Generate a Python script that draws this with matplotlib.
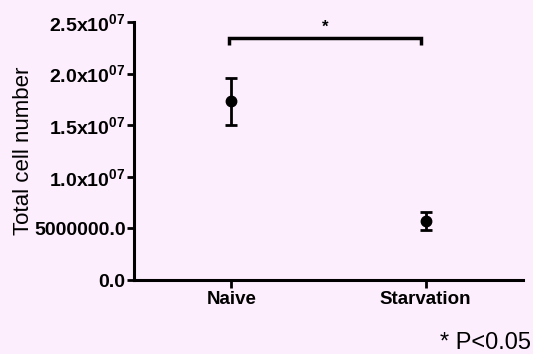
import numpy as np
import matplotlib
matplotlib.use("Agg")
import matplotlib.pyplot as plt

plt.rcParams['font.family'] = ['Liberation Sans', 'DejaVu Sans']
plt.rcParams['mathtext.fontset'] = 'custom'
plt.rcParams['mathtext.rm'] = 'Liberation Sans:bold'
plt.rcParams['mathtext.bf'] = 'Liberation Sans:bold'

groups = ['Naive', 'Starvation']
means = [1.73e7, 5.7e6]
sems = [2.3e6, 0.85e6]
yticks = [0, 5e6, 1e7, 1.5e7, 2e7, 2.5e7]
ytick_labels = ['0.0', '5000000.0', r'$\mathbf{1.0x10^{07}}$', r'$\mathbf{1.5x10^{07}}$',
                r'$\mathbf{2.0x10^{07}}$', r'$\mathbf{2.5x10^{07}}$']
bracket_x = [-0.01, 0.975]
bracket_y = 2.345e7
bracket_drop = 0.07e7

bg = '#fdeefd'
fig = plt.figure(figsize=(5.33, 3.54), dpi=100, facecolor=bg)
ax = fig.add_axes([0.2514, 0.209, 0.981 - 0.2514, 0.938 - 0.209], facecolor=bg)

x = np.arange(len(groups))
ax.errorbar(x, means, yerr=sems, fmt='o', color='black', markersize=7.5,
            elinewidth=2, capsize=4.5, capthick=2)

# significance bracket
ax.plot([bracket_x[0], bracket_x[0], bracket_x[1], bracket_x[1]],
        [bracket_y - bracket_drop, bracket_y, bracket_y, bracket_y - bracket_drop],
        color='black', lw=2.5, solid_capstyle='butt', solid_joinstyle='miter')
ax.text(sum(bracket_x) / 2, bracket_y + 0.03e7, '*', ha='center', va='bottom',
        fontsize=12, fontweight='bold')

ax.set_xlim(-0.5, 1.5)
ax.set_ylim(0, 2.5e7)
ax.set_xticks(x)
ax.set_xticklabels(groups, fontsize=13.5, fontweight='bold')
ax.set_yticks(yticks)
ax.set_yticklabels(ytick_labels, fontsize=14, fontweight='bold')
ax.tick_params(axis='both', width=2, length=5, pad=1)
ax.tick_params(axis='x', length=6, pad=2)

for s in ['top', 'right']:
    ax.spines[s].set_visible(False)
for s in ['left', 'bottom']:
    ax.spines[s].set_linewidth(2.2)

ax.set_ylabel('Total cell number', fontsize=16)
ax.yaxis.set_label_coords(-0.257, 0.5)

fig.text(0.997, 0.0, '* P<0.05', ha='right', va='bottom', fontsize=17)

fig.savefig('out.png', dpi=100, facecolor=bg)
